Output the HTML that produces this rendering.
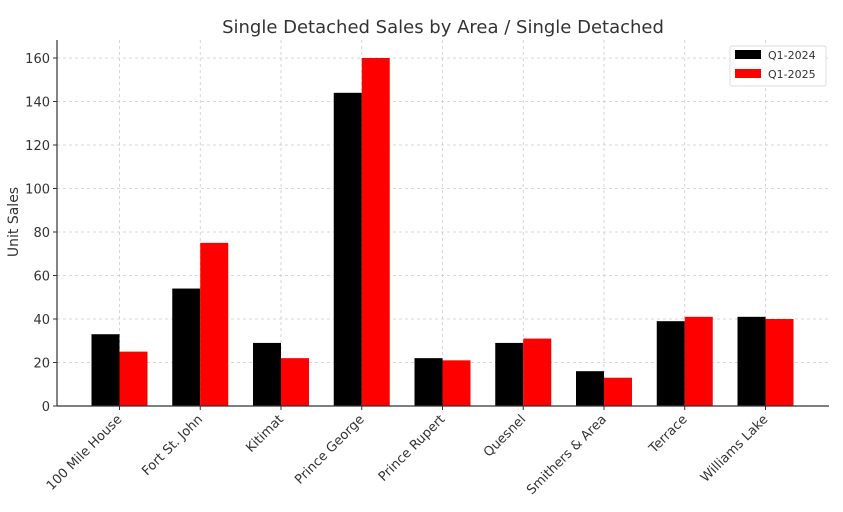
<!DOCTYPE html>
<html><head><meta charset="utf-8"><style>
body{margin:0;background:#fff}
svg{font-family:"DejaVu Sans","Liberation Sans",sans-serif}
</style></head><body>
<svg id="chart" width="843" height="507" viewBox="0 0 843 507" xmlns="http://www.w3.org/2000/svg">
<text x="443" y="33" text-anchor="middle" font-size="18" fill="#333">Single Detached Sales by Area / Single Detached</text>
<text transform="translate(18,222) rotate(-90)" text-anchor="middle" font-size="14" fill="#333">Unit Sales</text>
<g id="grid"></g><g id="bars"></g><g id="axes"></g>
<g>
<rect x="730" y="46" width="96" height="40" fill="#fff" stroke="#ddd" rx="2"/>
<rect x="735" y="50" width="26" height="9" fill="#000"/>
<text x="768" y="59" font-size="11" fill="#333">Q1-2024</text>
<rect x="735" y="69" width="26" height="9" fill="#f00"/>
<text x="768" y="78" font-size="11" fill="#333">Q1-2025</text>
</g>
</svg>
<script>
const categories=["100 Mile House","Fort St. John","Kitimat","Prince George","Prince Rupert","Quesnel","Smithers & Area","Terrace","Williams Lake"];
const q2024=[33,54,29,144,22,29,16,39,41];
const q2025=[25,75,22,160,21,31,13,41,40];
const yTicks=[0,20,40,60,80,100,120,140,160];
const NS="http://www.w3.org/2000/svg";
const x0=57,x1=829,y0=406,yTop=58;
const yScale=v=>y0-(v/160)*(y0-yTop);
const step=80.75,firstC=119.5,bw=28;
const xC=i=>firstC+i*step;
function mk(tag,attrs,parent){const e=document.createElementNS(NS,tag);for(const k in attrs)e.setAttribute(k,attrs[k]);parent.appendChild(e);return e;}
const grid=document.getElementById('grid'),bars=document.getElementById('bars'),axes=document.getElementById('axes');
yTicks.forEach(t=>{
 const y=yScale(t);
 const g=mk('line',{x1:x0,x2:x1,y1:y,y2:y,stroke:'#ccc','stroke-dasharray':'3,3','stroke-width':0.8},grid);
 
 
 const tk=mk('line',{x1:x0-4,x2:x0,y1:y,y2:y,stroke:'#333'},axes);
 
 
 const tx=mk('text',{x:x0-7,y:y+5,'text-anchor':'end','font-size':13,fill:'#333'},axes);
 tx.textContent=t;
 
 
});
categories.forEach((c,i)=>{
 const cx=xC(i);
 const gl=mk('line',{x1:cx,x2:cx,y1:yTop-18,y2:y0,stroke:'#ccc','stroke-dasharray':'3,3','stroke-width':0.8},grid);
 
 
 const b1=mk('rect',{x:cx-bw,y:yScale(q2024[i]),width:bw,height:y0-yScale(q2024[i]),fill:'#000'},bars);
 
 
 const b2=mk('rect',{x:cx,y:yScale(q2025[i]),width:bw,height:y0-yScale(q2025[i]),fill:'#f00'},bars);
 
 
 const tk=mk('line',{x1:cx,x2:cx,y1:y0,y2:y0+4,stroke:'#333'},axes);
 
 
 const tx=mk('text',{transform:`translate(${cx+3},${y0+14}) rotate(-45)`,'text-anchor':'end','font-size':13,fill:'#333'},axes);
 tx.textContent=c;
 
 
});
const la=mk('line',{x1:x0,x2:x0,y1:40,y2:y0,stroke:'#333','stroke-width':1.2},axes);


const ba=mk('line',{x1:x0,x2:x1,y1:y0,y2:y0,stroke:'#333','stroke-width':1.2},axes);


</script>
</body></html>
